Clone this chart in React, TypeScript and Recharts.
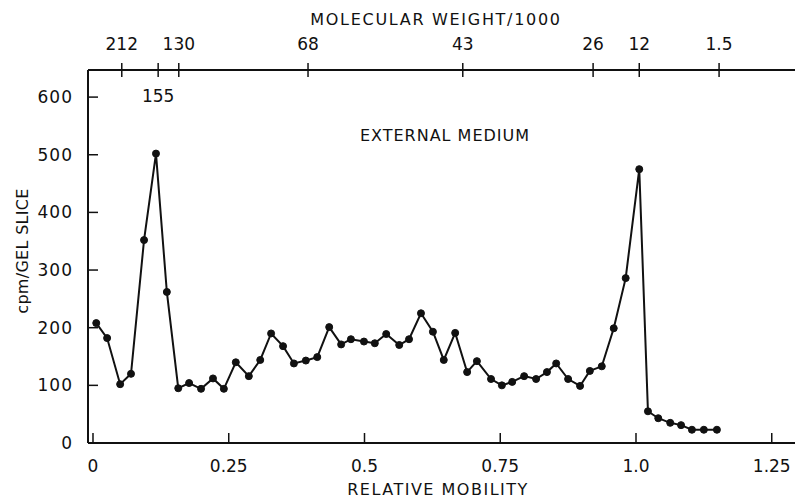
import React from "react";
import { LineChart, Line, XAxis, YAxis } from "recharts";

// relative mobility of each gel slice
const mobility = [
  0.006, 0.026, 0.05, 0.07, 0.094, 0.116, 0.136, 0.157, 0.177, 0.199,
  0.221, 0.241, 0.263, 0.287, 0.308, 0.328, 0.35, 0.37, 0.392, 0.413,
  0.435, 0.457, 0.475, 0.499, 0.519, 0.54, 0.564, 0.582, 0.604, 0.626,
  0.646, 0.667, 0.689, 0.707, 0.733, 0.753, 0.772, 0.794, 0.816, 0.836,
  0.853, 0.875, 0.897, 0.915, 0.937, 0.959, 0.981, 1.006, 1.022, 1.041,
  1.063, 1.083, 1.103, 1.125, 1.149,
];

const cpm = [
  208, 182, 102, 120, 352, 502, 262, 95, 104, 94,
  112, 94, 140, 116, 144, 190, 168, 138, 143, 149,
  201, 171, 180, 176, 173, 189, 170, 180, 225, 193,
  144, 191, 123, 142, 111, 100, 106, 116, 111, 123,
  138, 111, 99, 125, 133, 199, 286, 475, 55, 43,
  35, 31, 23, 23, 23,
];

const mobilityTicks = [0, 0.25, 0.5, 0.75, 1.0, 1.25];
const mobilityLabels = ["0", "0.25", "0.5", "0.75", "1.0", "1.25"];

// molecular weight markers on the top axis, placed at their mobility
const mwTicks = [0.053, 0.12, 0.158, 0.396, 0.681, 0.921, 1.006, 1.153];
const mwLabels = ["212", "155", "130", "68", "43", "26", "12", "1.5"];

const cpmTicks = [0, 100, 200, 300, 400, 500, 600];

const data = mobility.map((x, i) => ({ x, y: cpm[i] }));

const FONT = "'DejaVu Sans', Verdana, sans-serif";
const INK = "#111";

const BottomTick = (props: any) => {
  const { x, y, payload } = props;
  const i = mobilityTicks.indexOf(payload.value);
  return (
    <g>
      <line x1={x} x2={x} y1={y} y2={y - 10} stroke={INK} strokeWidth={1.5} />
      <text x={x} y={y + 29} textAnchor="middle" fontSize={17} fontFamily={FONT} fill={INK}>
        {mobilityLabels[i]}
      </text>
    </g>
  );
};

const TopTick = (props: any) => {
  const { x, y, payload } = props;
  const i = mwTicks.indexOf(payload.value);
  const below = mwLabels[i] === "155";
  return (
    <g>
      <line x1={x} x2={x} y1={y - 7} y2={y + 7} stroke={INK} strokeWidth={1.5} />
      <text
        x={x}
        y={below ? y + 32 : y - 20}
        textAnchor="middle"
        fontSize={17}
        fontFamily={FONT}
        fill={INK}
      >
        {mwLabels[i]}
      </text>
    </g>
  );
};

const LeftTick = (props: any) => {
  const { x, y, payload } = props;
  return (
    <g>
      <line x1={x} x2={x + 10} y1={y} y2={y} stroke={INK} strokeWidth={1.5} />
      <text x={x - 15} y={y + 6} textAnchor="end" fontSize={17} fontFamily={FONT} fill={INK} letterSpacing={1}>
        {payload.value}
      </text>
    </g>
  );
};

const RightTick = (props: any) => {
  const { x, y } = props;
  return <line x1={x - 10} x2={x - 2} y1={y + 5} y2={y + 5} stroke={INK} strokeWidth={1.5} />;
};

export default function App() {
  return (
    <div
      style={{
        position: "fixed", left: 0, top: 0, width: 795, height: 498,
        overflow: "hidden", background: "#fff",
      }}
    >
      <LineChart
        width={805}
        height={498}
        data={data}
        margin={{ top: 0, right: 0, bottom: 0, left: 0 }}
      >
        <XAxis
          xAxisId="mob"
          type="number"
          dataKey="x"
          domain={[-0.0092, 1.2965]}
          allowDataOverflow
          ticks={mobilityTicks}
          interval={0}
          height={55}
          tickSize={0}
          tickMargin={0}
          tick={<BottomTick />}
          axisLine={{ stroke: INK, strokeWidth: 2 }}
          tickLine={false}
        />
        <XAxis
          xAxisId="mw"
          orientation="top"
          type="number"
          dataKey="x"
          domain={[-0.0092, 1.2965]}
          allowDataOverflow
          ticks={mwTicks}
          interval={0}
          height={70}
          tickSize={0}
          tickMargin={0}
          tick={<TopTick />}
          axisLine={{ stroke: INK, strokeWidth: 2 }}
          tickLine={false}
        />
        <YAxis
          yAxisId="cpm"
          type="number"
          domain={[0, 647]}
          ticks={cpmTicks}
          interval={0}
          width={88}
          tickSize={0}
          tickMargin={0}
          tick={<LeftTick />}
          axisLine={{ stroke: INK, strokeWidth: 2 }}
          tickLine={false}
        />
        <YAxis
          yAxisId="right"
          orientation="right"
          type="number"
          domain={[0, 647]}
          ticks={cpmTicks.slice(1)}
          interval={0}
          width={8}
          tickSize={0}
          tickMargin={0}
          tick={<RightTick />}
          axisLine={false}
          tickLine={false}
        />
        <Line
          xAxisId="mob"
          yAxisId="cpm"
          type="linear"
          dataKey="y"
          stroke={INK}
          strokeWidth={2}
          dot={{ r: 3.5, fill: INK, stroke: INK, strokeWidth: 1 }}
          activeDot={false}
          isAnimationActive={false}
        />
        <text x={436} y={25} textAnchor="middle" fontSize={16} fontFamily={FONT} fill={INK} letterSpacing={1.7}>
          MOLECULAR WEIGHT/1000
        </text>
        <text x={445} y={141} textAnchor="middle" fontSize={16} fontFamily={FONT} fill={INK} letterSpacing={1}>
          EXTERNAL MEDIUM
        </text>
        <text x={438} y={495} textAnchor="middle" fontSize={16} fontFamily={FONT} fill={INK} letterSpacing={1.5}>
          RELATIVE MOBILITY
        </text>
        <text
          x={28}
          y={251}
          textAnchor="middle"
          fontSize={16}
          fontFamily={FONT}
          fill={INK}
          letterSpacing={0.3}
          transform="rotate(-90 28 251)"
        >
          cpm/GEL SLICE
        </text>
      </LineChart>
    </div>
  );
}
